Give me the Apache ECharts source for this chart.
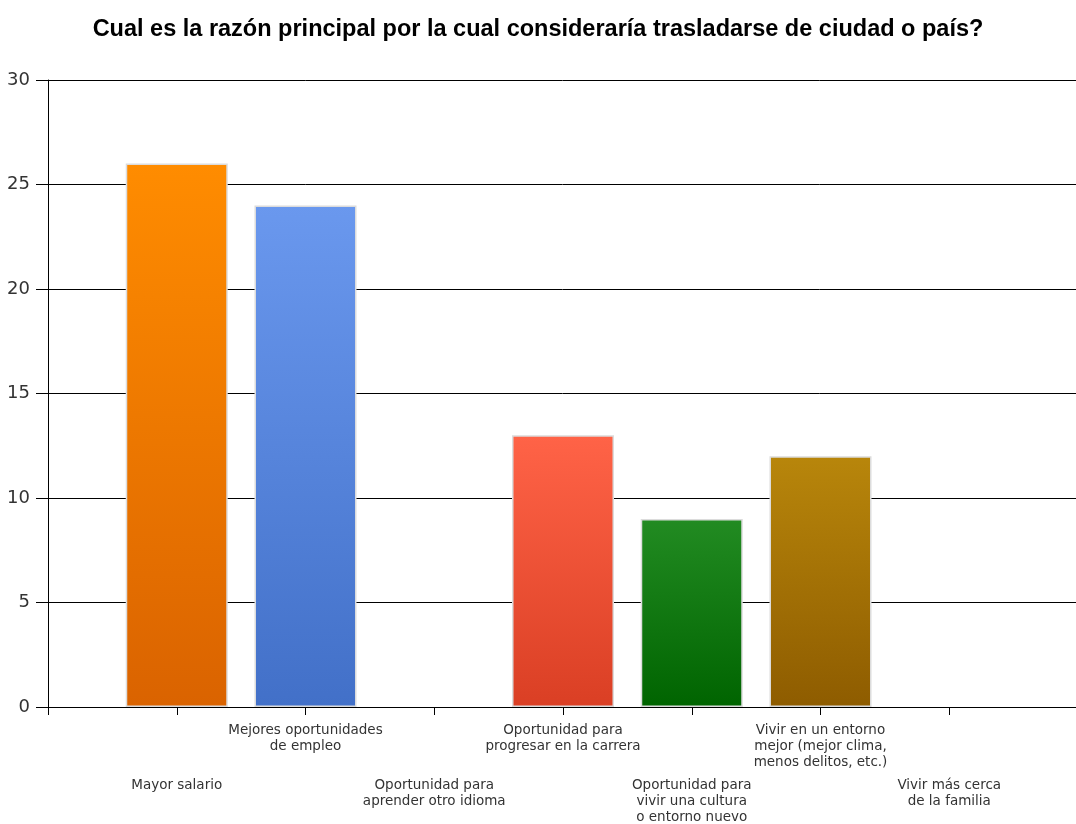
<!DOCTYPE html>
<html>
<head>
<meta charset="utf-8">
<script src="https://cdn.jsdelivr.net/npm/echarts@6/dist/echarts.min.js"></script>
<style>
  html, body { margin: 0; padding: 0; background: #fff; }
  #chart { width: 1076px; height: 824px; }
</style>
</head>
<body>
<div id="chart"></div>
<script>
// categories (blank slot at each end so bars sit on the ticks)
const categories = [
  '',
  'Mayor salario',
  'Mejores oportunidades\nde empleo',
  'Oportunidad para\naprender otro idioma',
  'Oportunidad para\nprogresar en la carrera',
  'Oportunidad para\nvivir una cultura\no entorno nuevo',
  'Vivir en un entorno\nmejor (mejor clima,\nmenos delitos, etc.)',
  'Vivir más cerca\nde la familia',
  ''
];
const values = [null, 26, 24, 0, 13, 9, 12, 0, null];
const yTicks = [0, 5, 10, 15, 20, 25, 30];
// top / bottom colours of each bar
const barColors = [
  null,
  ['#FF8C00', '#DA6300'],
  ['#6A98EE', '#4270C8'],
  ['#FF6347', '#DA3F24'],
  ['#FF6347', '#DA3F24'],
  ['#228B22', '#006400'],
  ['#B8860B', '#8E5C00'],
  ['#999', '#777'],
  null
];

const chart = echarts.init(document.getElementById('chart'));

const grad = (c) => new echarts.graphic.LinearGradient(0, 0, 0, 1, [
  { offset: 0, color: c[0] },
  { offset: 1, color: c[1] }
]);

const option = {
  animation: false,
  title: {
    text: 'Cual es la razón principal por la cual consideraría trasladarse de ciudad o país?',
    left: 'center',
    top: 13,
    textStyle: {
      fontFamily: 'Liberation Sans',
      fontWeight: 'bold',
      fontSize: 23.5,
      color: '#000'
    }
  },
  grid: { left: 48, width: 1030, top: 80, bottom: 117, outerBoundsMode: 'none', containLabel: false },
  xAxis: {
    type: 'category',
    data: categories,
    boundaryGap: false,
    axisLine: { lineStyle: { color: '#000', width: 1 } },
    axisTick: { alignWithLabel: true, length: 8, lineStyle: { color: '#000' } },
    axisLabel: {
      interval: 0,
      margin: 15,
      color: '#333',
      fontFamily: 'DejaVu Sans',
      fontSize: 13.5,
      formatter: function (v, i) {
        if (!v) return '';
        const lines = v.split('\n');
        if (i % 2 === 1) {
          return '{sp| }\n' + lines.map(l => '{l|' + l + '}').join('\n');
        }
        return lines.map(l => '{u|' + l + '}').join('\n');
      },
      rich: {
        sp: { lineHeight: 55, fontSize: 12 },
        l: { lineHeight: 16, fontSize: 13.5, fontFamily: 'DejaVu Sans', color: '#333' },
        u: { lineHeight: 16, fontSize: 13.5, fontFamily: 'DejaVu Sans', color: '#333' }
      }
    },
    splitLine: { show: false }
  },
  yAxis: {
    type: 'value',
    min: yTicks[0],
    max: yTicks[yTicks.length - 1],
    interval: 5,
    axisLine: { show: true, lineStyle: { color: '#000', width: 1 } },
    axisTick: { show: true, length: 12, lineStyle: { color: '#000' } },
    axisLabel: {
      margin: 18,
      color: '#333',
      fontFamily: 'DejaVu Sans',
      fontSize: 18
    },
    splitLine: { show: true, lineStyle: { color: '#000', width: 1 } }
  },
  series: [{
    type: 'bar',
    barWidth: 102,
    z: 3,
    data: values.map((v, i) => ({
      value: v,
      itemStyle: barColors[i] ? {
        color: grad(barColors[i]),
        borderColor: '#dcdcdc',
        borderWidth: v ? 1.5 : 0
      } : {}
    }))
  }]
};

chart.setOption(option);
</script>
</body>
</html>
